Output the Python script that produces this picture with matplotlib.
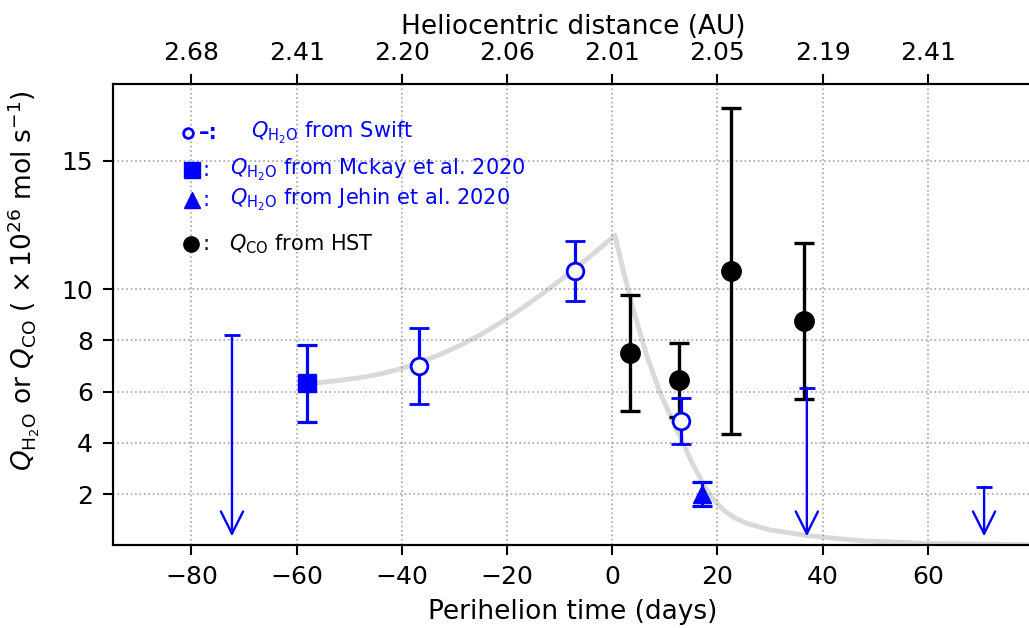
import matplotlib
matplotlib.use("Agg")
import matplotlib.pyplot as plt

# ==========================================================
# Values
# ==========================================================

# Swift water production (open circles)
swift_t = [-36.7, -7.0, 13.1]
swift_q = [7.0, 10.7, 4.86]
swift_err = [1.48, 1.16, 0.90]

# McKay et al. 2020 (square)
mckay_t = [-58.0]
mckay_q = [6.32]
mckay_err = [1.50]

# Jehin et al. 2020 (triangle)
jehin_t = [17.0]
jehin_q = [2.0]
jehin_err = [0.47]

# HST CO production (black dots)
hst_t = [3.4, 12.6, 22.5, 36.5]
hst_q = [7.5, 6.44, 10.7, 8.76]
hst_err = [2.27, 1.44, 6.35, 3.05]

# Swift upper limits (arrows)
ul_t = [-72.3, 37.0, 70.7]
ul_q = [8.2, 6.15, 2.28]
ul_floor = 0.35

# grey trend curve
model_t = [-56.2, -52.0, -48.0, -44.0, -40.4, -36.7, -33.0, -29.0, -25.0,
           -21.0, -17.0, -13.0, -9.9, -7.0, -4.0, -1.5, 0.5,
           2.0, 4.0, 6.5, 9.0, 11.5, 13.0, 15.0, 17.3, 19.0, 21.0, 23.0,
           25.5, 30.0, 37.0, 47.0, 60.0, 80.0]
model_q = [6.34, 6.43, 6.54, 6.69, 6.88, 7.13, 7.42, 7.79, 8.22,
           8.72, 9.27, 9.86, 10.34, 10.81, 11.31, 11.74, 12.10,
           10.80, 9.20, 7.45, 6.00, 4.85, 4.20, 3.30, 2.40, 1.85, 1.40, 1.10,
           0.86, 0.60, 0.38, 0.18, 0.07, 0.02]

# axis ticks
time_ticks = [-80, -60, -40, -20, 0, 20, 40, 60]
dist_labels = ["2.68", "2.41", "2.20", "2.06", "2.01", "2.05", "2.19", "2.41"]
q_ticks = [2, 4, 6, 8, 10, 15]

# ==========================================================
# Figure
# ==========================================================

fig = plt.figure(figsize=(10.29, 6.28), dpi=100)
ax = fig.add_axes([0.1094, 0.1317, 0.8945, 0.7345])

ax.plot(model_t, model_q, color="#d9d9d9", lw=3.5, zorder=1,
        solid_capstyle="round", solid_joinstyle="round")

ax.errorbar(hst_t, hst_q, yerr=hst_err, fmt="o", color="black",
            ms=14, elinewidth=2.4, capsize=7.5, capthick=2.4, zorder=3)

ax.errorbar(swift_t, swift_q, yerr=swift_err, fmt="o", color="blue",
            mfc="white", mec="blue", mew=2, ms=12,
            elinewidth=2.3, capsize=7.5, capthick=2.3, zorder=4)

ax.errorbar(mckay_t, mckay_q, yerr=mckay_err, fmt="s", color="blue",
            ms=13, elinewidth=2.3, capsize=7.5, capthick=2.3, zorder=4)

ax.errorbar(jehin_t, jehin_q, yerr=jehin_err, fmt="^", color="blue",
            ms=13, elinewidth=2.3, capsize=7.5, capthick=2.3, zorder=4)

# upper limits
ax.plot(ul_t, ul_q, ls="none", marker="_", ms=11.5, mew=2,
        color="blue", zorder=4)
for t, q in zip(ul_t, ul_q):
    ax.annotate("", xy=(t, ul_floor), xytext=(t, q),
                arrowprops=dict(arrowstyle="->,head_length=0.8,head_width=0.4",
                                mutation_scale=20, color="blue", lw=1.7,
                                shrinkA=0, shrinkB=0),
                zorder=4)

# ==========================================================
# Axes styling
# ==========================================================

ax.set_xlim(-95, 80)
ax.set_ylim(0, 18)
ax.set_xticks(time_ticks)
ax.set_yticks(q_ticks)
ax.grid(True, linestyle=":", color="gray", lw=1.2, alpha=0.7)

for s in ax.spines.values():
    s.set_linewidth(1.5)

ax.tick_params(direction="out", length=7, width=1.5, labelsize=18, pad=7)

ax.set_xlabel("Perihelion time (days)", fontsize=19)
ax.xaxis.set_label_coords(0.5, -0.117)
ax.set_ylabel(r"$Q_{\rm H_2O}$ or $Q_{\rm CO}$ ( $\times\,10^{26}$ mol s$^{-1}$)",
              fontsize=19)
ax.yaxis.set_label_coords(-0.077, 0.575)

top = ax.twiny()
top.set_xlim(ax.get_xlim())
top.set_xticks(time_ticks)
top.set_xticklabels(dist_labels)
top.tick_params(direction="out", length=7, width=1.5, labelsize=18, pad=7)
top.set_xlabel("Heliocentric distance (AU)", fontsize=19)
top.xaxis.set_label_coords(0.5, 1.108)
for s in top.spines.values():
    s.set_linewidth(1.5)

# ==========================================================
# Hand made legend
# ==========================================================

tr = ax.transAxes
ax.plot([0.0822], [0.893], transform=tr, marker="o", ms=7, mfc="white",
        mec="blue", mew=2, clip_on=False)
ax.text(0.094, 0.893, "\u2013:", transform=tr, color="blue",
        fontsize=15, va="center", fontweight="bold")
ax.text(0.150, 0.893, r"$Q_{\rm H_2O}$ from Swift", transform=tr,
        color="blue", fontsize=15, va="center")

ax.plot([0.0859], [0.813], transform=tr, marker="s", ms=11,
        color="blue", clip_on=False)
ax.text(0.0975, 0.813, ":", transform=tr, color="blue", fontsize=15,
        va="center")
ax.text(0.1276, 0.813, r"$Q_{\rm H_2O}$ from Mckay et al. 2020",
        transform=tr, color="blue", fontsize=15, va="center")

ax.plot([0.0859], [0.748], transform=tr, marker="^", ms=12,
        color="blue", clip_on=False)
ax.text(0.0975, 0.748, ":", transform=tr, color="blue", fontsize=15,
        va="center")
ax.text(0.1276, 0.748, r"$Q_{\rm H_2O}$ from Jehin et al. 2020",
        transform=tr, color="blue", fontsize=15, va="center")

ax.plot([0.0848], [0.653], transform=tr, marker="o", ms=11,
        color="black", clip_on=False)
ax.text(0.0975, 0.653, ":", transform=tr, color="black", fontsize=15,
        va="center")
ax.text(0.1265, 0.653, r"$Q_{\rm CO}$ from HST",
        transform=tr, color="black", fontsize=15, va="center")

fig.savefig("out.png", dpi=100)
